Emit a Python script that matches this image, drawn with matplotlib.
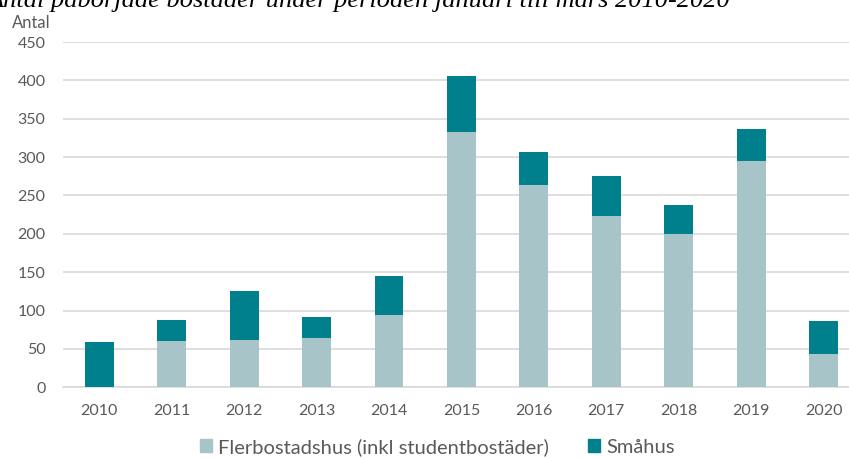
import numpy as np
import matplotlib.pyplot as plt
from matplotlib.patches import Patch

ar = ["2010", "2011", "2012", "2013", "2014", "2015", "2016", "2017", "2018", "2019", "2020"]
flerbostadshus = [0, 60, 61, 64, 94, 333, 264, 223, 200, 295, 44]
smahus = [59, 28, 65, 28, 51, 73, 43, 53, 37, 41, 42]

fler_farg = "#a7c4c9"
sma_farg = "#00808c"
text_farg = "#595959"

plt.rcParams['font.family'] = ['Lato', 'DejaVu Sans']

fig = plt.figure(figsize=(8.49, 4.59), dpi=100)
ax = fig.add_axes([63 / 849, 71.7 / 459, 786 / 849, 345.3 / 459])

x = np.arange(len(ar))
ax.bar(x, flerbostadshus, width=0.4, color=fler_farg, zorder=3)
ax.bar(x, smahus, width=0.4, bottom=flerbostadshus, color=sma_farg, zorder=3)

ax.set_xlim(-0.5, 10.35)
ax.set_ylim(0, 450)
ax.set_yticks(range(0, 451, 50))
ax.set_xticks(x)
ax.set_xticklabels(ar)
ax.tick_params(length=0, labelsize=11.5, colors=text_farg)
ax.tick_params(axis='y', pad=12.5)
ax.tick_params(axis='x', pad=12)
ax.grid(axis='y', color="#d9d9d9", linewidth=1.2, zorder=0)
for s in ["top", "right", "left"]:
    ax.spines[s].set_visible(False)
ax.spines["bottom"].set_color("#d9d9d9")
ax.spines["bottom"].set_linewidth(1.2)

fig.text(12 / 849, 1 - 23 / 459, "Antal", fontsize=12, color=text_farg, va='center')

# rubriken ar avklippt upptill i originalet
fig.text(730 / 849, 1 - 7 / 459,
         "Antal påbörjade bostäder under perioden januari till mars 2010-2020",
         family=['Liberation Serif'], style='italic', fontsize=19,
         ha='right', va='baseline', color='black')

handles = [Patch(color=fler_farg), Patch(color=sma_farg)]
fig.legend(handles, ["Flerbostadshus (inkl studentbostäder)", "Småhus"],
           loc='center', bbox_to_anchor=(437 / 849, 12 / 459), ncol=2,
           frameon=False, fontsize=14.5, labelcolor=text_farg,
           handlelength=0.6, handleheight=0.6, handletextpad=0.3, columnspacing=1.95)

fig.savefig("out.png", dpi=100)
